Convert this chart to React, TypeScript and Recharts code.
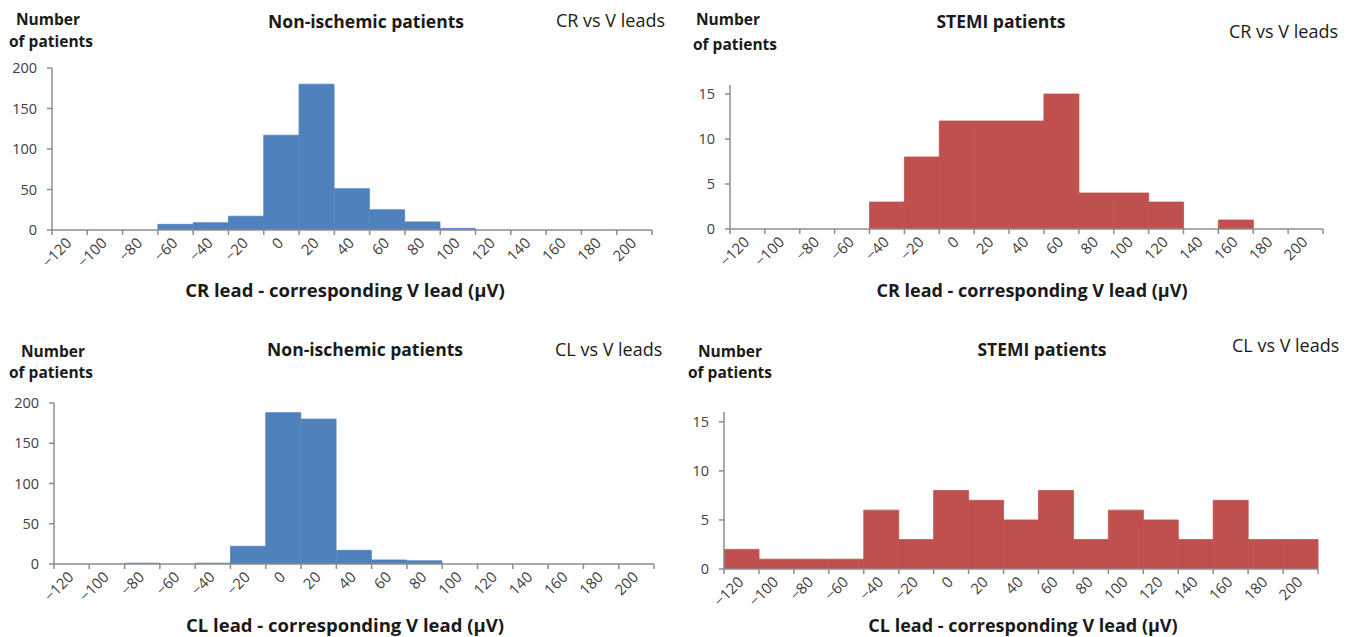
import React from 'react'
import { BarChart, Bar, XAxis, YAxis } from 'recharts'

// bin labels (µV), one bar per 20 µV bin
const BINS = ['−120', '−100', '−80', '−60', '−40', '−20', '0', '20', '40', '60', '80', '100', '120', '140', '160', '180', '200']

const CR_NON_ISCHEMIC = [0, 0, 0, 7, 9, 17, 117, 180, 51, 25, 10, 2, 0, 0, 0, 0, 0]
const CR_STEMI = [0, 0, 0, 0, 3, 8, 12, 12, 12, 15, 4, 4, 3, 0, 1, 0, 0]
const CL_NON_ISCHEMIC = [0, 0, 1, 0, 1, 22, 188, 180, 17, 5, 4, 0, 0, 0, 0, 0, 0]
const CL_STEMI = [2, 1, 1, 1, 6, 3, 8, 7, 5, 8, 3, 6, 5, 3, 7, 3, 3]

const NON_ISCHEMIC_TICKS = [0, 50, 100, 150, 200]
const STEMI_TICKS = [0, 5, 10, 15]

const BLUE = '#4f81bd'
const RED = '#c0504d'
const AXIS = '#8c8c8c'
const FONT = '"Open Sans", sans-serif'

function BinTick(props: any) {
  const { x, y, payload, index, bw } = props
  const last = index === BINS.length - 1
  const tx = x + 3
  const ty = y + 14
  return (
    <g>
      <line x1={x - bw / 2} x2={x - bw / 2} y1={y} y2={y + 5} stroke={AXIS} strokeWidth={1.5} />
      {last && <line x1={x + bw / 2} x2={x + bw / 2} y1={y} y2={y + 5} stroke={AXIS} strokeWidth={1.5} />}
      <text x={tx} y={ty} transform={`rotate(-45 ${tx} ${ty})`} textAnchor="end" fontSize={15} fontFamily={FONT} fill="#404040">
        {payload.value}
      </text>
    </g>
  )
}

function HistPanel({ data, color, yMax, yTicks, left, right, top, bottom }: any) {
  const plotW = right - left
  const plotH = bottom - top
  const YW = 50
  const MT = 10
  const XH = 60
  const MR = 10
  const rows = BINS.map((bin, i) => ({ bin, count: data[i] }))
  const bw = plotW / BINS.length
  return (
    <div style={{ position: 'absolute', left: left - YW, top: top - MT }}>
      <BarChart
        width={YW + plotW + MR}
        height={MT + plotH + XH}
        data={rows}
        margin={{ top: MT, right: MR, bottom: 0, left: 0 }}
        barCategoryGap={0}
      >
        <XAxis
          dataKey="bin"
          interval={0}
          height={XH}
          axisLine={{ stroke: AXIS, strokeWidth: 1.5 }}
          tickLine={false}
          tickSize={0}
          tickMargin={0}
          tick={<BinTick bw={bw} />}
        />
        <YAxis
          width={YW}
          domain={[0, yMax]}
          ticks={yTicks}
          allowDataOverflow
          axisLine={{ stroke: AXIS, strokeWidth: 1.5 }}
          tickLine={{ stroke: AXIS, strokeWidth: 1.5 }}
          tickSize={5}
          tickMargin={10}
          tick={{ fontSize: 14.5, fontFamily: FONT, fill: '#404040' }}
        />
        <Bar dataKey="count" fill={color} stroke={color} strokeWidth={0.8} isAnimationActive={false} />
      </BarChart>
    </div>
  )
}

function Label({ x, y, text, size, bold, align }: any) {
  return (
    <div
      style={{
        position: 'absolute',
        left: x,
        top: y,
        transform: align === 'left' ? 'translate(0, -50%)' : 'translate(-50%, -50%)',
        fontFamily: FONT,
        fontSize: size,
        fontWeight: bold ? 700 : 400,
        color: '#1a1a1a',
        whiteSpace: 'nowrap',
        lineHeight: 1,
      }}
    >
      {text}
    </div>
  )
}

export default function App() {
  return (
    <div style={{ position: 'absolute', left: 0, top: 0, width: 1354, height: 637, background: '#fff', overflow: 'hidden' }}>
      {/* top left */}
      <Label x={48} y={20} text="Number" size={15.5} bold />
      <Label x={51} y={42} text="of patients" size={15.5} bold />
      <Label x={366} y={22} text="Non-ischemic patients" size={17.5} bold />
      <Label x={556} y={20} text="CR vs V leads" size={18} align="left" />
      <HistPanel data={CR_NON_ISCHEMIC} color={BLUE} yMax={200} yTicks={NON_ISCHEMIC_TICKS} left={52} right={652} top={68} bottom={230} />
      <Label x={345} y={290} text="CR lead - corresponding V lead (µV)" size={18.5} bold />

      {/* top right */}
      <Label x={728} y={20} text="Number" size={15.5} bold />
      <Label x={735} y={45} text="of patients" size={15.5} bold />
      <Label x={1001} y={22} text="STEMI patients" size={17.5} bold />
      <Label x={1229} y={31} text="CR vs V leads" size={18} align="left" />
      <HistPanel data={CR_STEMI} color={RED} yMax={16} yTicks={STEMI_TICKS} left={730} right={1323} top={85} bottom={229} />
      <Label x={1032} y={290} text="CR lead - corresponding V lead (µV)" size={18} bold />

      {/* bottom left */}
      <Label x={53} y={352} text="Number" size={15.5} bold />
      <Label x={51} y={373} text="of patients" size={15.5} bold />
      <Label x={365} y={350} text="Non-ischemic patients" size={17.5} bold />
      <Label x={555} y={349} text="CL vs V leads" size={18} align="left" />
      <HistPanel data={CL_NON_ISCHEMIC} color={BLUE} yMax={200} yTicks={NON_ISCHEMIC_TICKS} left={54} right={654} top={403} bottom={564} />
      <Label x={345} y={625} text="CL lead - corresponding V lead (µV)" size={18.5} bold />

      {/* bottom right */}
      <Label x={730} y={352} text="Number" size={15.5} bold />
      <Label x={730} y={373} text="of patients" size={15.5} bold />
      <Label x={1042} y={350} text="STEMI patients" size={17.5} bold />
      <Label x={1232} y={345} text="CL vs V leads" size={18} align="left" />
      <HistPanel data={CL_STEMI} color={RED} yMax={16} yTicks={STEMI_TICKS} left={724} right={1318} top={412} bottom={569} />
      <Label x={1023} y={625} text="CL lead - corresponding V lead (µV)" size={18} bold />
    </div>
  )
}
